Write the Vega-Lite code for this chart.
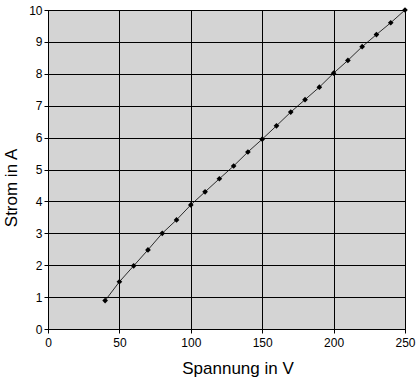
{
  "$schema": "https://vega.github.io/schema/vega-lite/v6.json",
  "autosize": "none",
  "width": 357,
  "height": 319,
  "padding": {"left": 48, "top": 10, "right": 14, "bottom": 55},
  "background": "white",
  "config": {
    "view": {"fill": "#d4d4d4", "stroke": "black", "strokeWidth": 1},
    "font": "Liberation Sans",
    "axis": {
      "gridColor": "black", "gridOpacity": 1, "gridWidth": 1,
      "domainColor": "black", "tickColor": "black", "tickSize": 4,
      "labelColor": "black", "labelFontSize": 12, "labelFont": "Liberation Sans",
      "titleColor": "black", "titleFontSize": 17, "titleFontWeight": "normal", "titleFont": "Liberation Sans"
    }
  },
  "data": {
    "values": [
      {"V": 40, "A": 0.89},
      {"V": 50, "A": 1.48},
      {"V": 60, "A": 1.98},
      {"V": 70, "A": 2.48},
      {"V": 80, "A": 3.0},
      {"V": 90, "A": 3.42},
      {"V": 100, "A": 3.89},
      {"V": 110, "A": 4.3},
      {"V": 120, "A": 4.71},
      {"V": 130, "A": 5.11},
      {"V": 140, "A": 5.55},
      {"V": 150, "A": 5.95},
      {"V": 160, "A": 6.37},
      {"V": 170, "A": 6.8},
      {"V": 180, "A": 7.19},
      {"V": 190, "A": 7.58},
      {"V": 200, "A": 8.02},
      {"V": 210, "A": 8.42},
      {"V": 220, "A": 8.85},
      {"V": 230, "A": 9.23},
      {"V": 240, "A": 9.6},
      {"V": 250, "A": 10.0}
    ]
  },
  "encoding": {
    "x": {
      "field": "V", "type": "quantitative",
      "scale": {"domain": [0, 250], "nice": false, "zero": true},
      "axis": {"title": "Spannung in V", "values": [0, 50, 100, 150, 200, 250], "labelPadding": 4, "labelFlush": false,
               "titleX": 189.5, "titleY": 44, "titleBaseline": "alphabetic", "titleAnchor": "middle"}
    },
    "y": {
      "field": "A", "type": "quantitative",
      "scale": {"domain": [0, 10], "nice": false},
      "axis": {"title": "Strom in A", "values": [0,1,2,3,4,5,6,7,8,9,10], "labelPadding": 2, "labelFlush": false,
               "titleX": -32, "titleY": 177.5, "titleBaseline": "alphabetic", "titleAnchor": "middle", "titleAngle": -90}
    }
  },
  "layer": [
    {"mark": {"type": "line", "color": "black", "strokeWidth": 0.8}},
    {"mark": {"type": "point", "shape": "diamond", "filled": true, "color": "black", "size": 32, "opacity": 1}}
  ]
}
